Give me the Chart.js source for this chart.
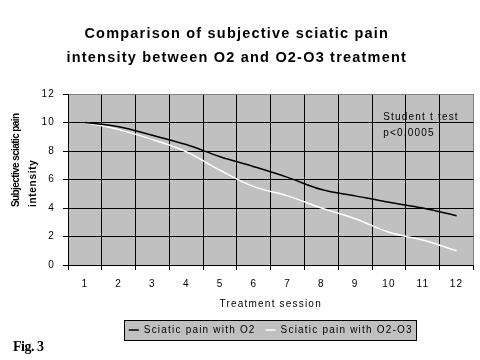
<!DOCTYPE html>
<html>
<head>
<meta charset="utf-8">
<script src="https://cdn.jsdelivr.net/npm/chart.js@4/dist/chart.umd.min.js"></script>
<style>
  html, body { margin: 0; padding: 0; background: #fff; }
  #wrap { position: relative; width: 480px; height: 360px; }
  #fig { position: absolute; left: 13px; top: 340px; font: bold 14px "Liberation Serif", "Times New Roman", serif; line-height: 14px; letter-spacing: -0.5px; color: #000; }
</style>
</head>
<body>
<div id="wrap">
  <canvas id="c" width="480" height="360"></canvas>
  <div id="fig">Fig. 3</div>
</div>
<script>
const titleLines = ['Comparison of subjective sciatic pain', 'intensity between O2 and O2-O3 treatment'];
const sessions = ['1','2','3','4','5','6','7','8','9','10','11','12'];
const painO2 = [10, 9.7, 9.1, 8.45, 7.6, 6.9, 6.15, 5.3, 4.85, 4.4, 4.0, 3.45];
const painO2O3 = [10, 9.5, 8.8, 7.95, 6.65, 5.5, 4.85, 4.0, 3.25, 2.3, 1.75, 1.0];
const seriesNames = ['Sciatic pain with O2', 'Sciatic pain with O2-O3'];
const yTitleLines = ['Subjective sciatic pain', 'intensity'];
const xTitle = 'Treatment session';
const noteLines = ['Student t test', 'p<0,0005'];

const FONT = '"Liberation Sans", Arial, sans-serif';

const spacingPlugin = {
  id: 'spacing',
  beforeUpdate(chart) { chart.ctx.letterSpacing = '1.2px'; },
  beforeDraw(chart) { chart.ctx.letterSpacing = '1.2px'; }
};

const legendCenterPlugin = {
  id: 'legendCenter',
  afterLayout(chart) {
    const lg = chart.legend, a = chart.chartArea;
    if (lg && a) { lg.left = a.left; lg.right = a.right; }
  }
};

const decorPlugin = {
  id: 'decor',
  beforeDraw(chart) {
    const {ctx, chartArea: a} = chart;
    ctx.save();
    ctx.fillStyle = '#c0c0c0';
    ctx.fillRect(a.left, a.top, a.right - a.left, a.bottom - a.top);
    // legend frame
    const hb = chart.legend && chart.legend.legendHitBoxes;
    if (hb && hb.length) {
      let l = Infinity, r = -Infinity, t = Infinity, b = -Infinity;
      hb.forEach(h => { l = Math.min(l, h.left); r = Math.max(r, h.left + h.width); t = Math.min(t, h.top); b = Math.max(b, h.top + h.height); });
      const x0 = Math.round(l - 5) + 0.5, x1 = Math.round(r + 3) + 0.5;
      const y0 = Math.round(t - 5) + 0.5, y1 = Math.round(b + 5) + 0.5;
      ctx.fillStyle = '#c0c0c0';
      ctx.fillRect(x0, y0, x1 - x0, y1 - y0);
      ctx.strokeStyle = '#000';
      ctx.lineWidth = 1;
      ctx.strokeRect(x0, y0, x1 - x0, y1 - y0);
    }
    ctx.restore();
  },
  afterDraw(chart) {
    const {ctx, scales} = chart;
    ctx.save();
    // y axis title (two lines, start-aligned)
    ctx.fillStyle = '#000';
    ctx.textBaseline = 'middle';
    ctx.textAlign = 'left';
    const startY = 207;
    [[16, yTitleLines[0], '-0.6px'], [33, yTitleLines[1], '0.7px']].forEach(([x, txt, sp]) => {
      ctx.save();
      ctx.translate(x, startY);
      ctx.rotate(-Math.PI / 2);
      ctx.letterSpacing = sp;
      ctx.font = 'bold 10px ' + FONT;
      ctx.fillText(txt, 0, 0);
      ctx.restore();
    });
    // note text
    ctx.letterSpacing = '1.2px';
    ctx.font = '10px ' + FONT;
    const xs = scales.x;
    const nx = (xs.getPixelForValue(8) + xs.getPixelForValue(9)) / 2 + 11;
    ctx.fillText(noteLines[0], nx, scales.y.getPixelForValue(10.4));
    ctx.fillText(noteLines[1], nx, scales.y.getPixelForValue(9.25));
    ctx.restore();
  }
};

new Chart(document.getElementById('c'), {
  type: 'line',
  data: {
    labels: sessions,
    datasets: [
      { label: seriesNames[0], data: painO2, borderColor: '#000', backgroundColor: '#000', borderWidth: 1.5, pointRadius: 0, pointStyle: 'line', tension: 0.35, fill: false },
      { label: seriesNames[1], data: painO2O3, borderColor: '#fff', backgroundColor: '#fff', borderWidth: 1.5, pointRadius: 0, pointStyle: 'line', tension: 0.35, fill: false }
    ]
  },
  options: {
    responsive: false,
    animation: false,
    events: [],
    layout: { padding: { left: 0, right: 6.5, top: 0, bottom: 15 } },
    plugins: {
      title: {
        display: true,
        text: titleLines,
        color: '#000',
        font: { family: FONT, size: 14.5, weight: 'bold', lineHeight: '24px' },
        padding: { top: 22, bottom: 24 }
      },
      legend: {
        position: 'bottom',
        labels: {
          usePointStyle: true,
          pointStyleWidth: 10,
          boxHeight: 10,
          color: '#000',
          padding: 10,
          font: { family: FONT, size: 10 }
        }
      },
      tooltip: { enabled: false }
    },
    scales: {
      x: {
        type: 'category',
        offset: true,
        afterFit(s) { s.height = 50; },
        grid: {
          offset: true,
          color: ctx => (ctx.type === 'scale' || ctx.index === 12) ? '#808080' : '#000',
          tickColor: '#000',
          tickLength: 5,
          lineWidth: 1
        },
        border: { display: true, color: '#000', width: 1 },
        ticks: { color: '#000', padding: 8, maxRotation: 0, autoSkip: false, font: { family: FONT, size: 10 } },
        title: { display: true, text: xTitle, color: '#000', font: { family: FONT, size: 10 }, padding: { top: 0, bottom: 5 } }
      },
      y: {
        min: 0,
        max: 12,
        afterFit(s) { s.width = 68; },
        grid: {
          color: ctx => (ctx.tick && ctx.tick.value === 12) ? '#808080' : '#000',
          tickColor: '#000',
          tickLength: 5,
          lineWidth: 1
        },
        border: { display: true, color: '#000', width: 1 },
        ticks: { stepSize: 2, color: '#000', padding: 8, font: { family: FONT, size: 10 } }
      }
    }
  },
  plugins: [spacingPlugin, legendCenterPlugin, decorPlugin]
});
</script>
</body>
</html>
